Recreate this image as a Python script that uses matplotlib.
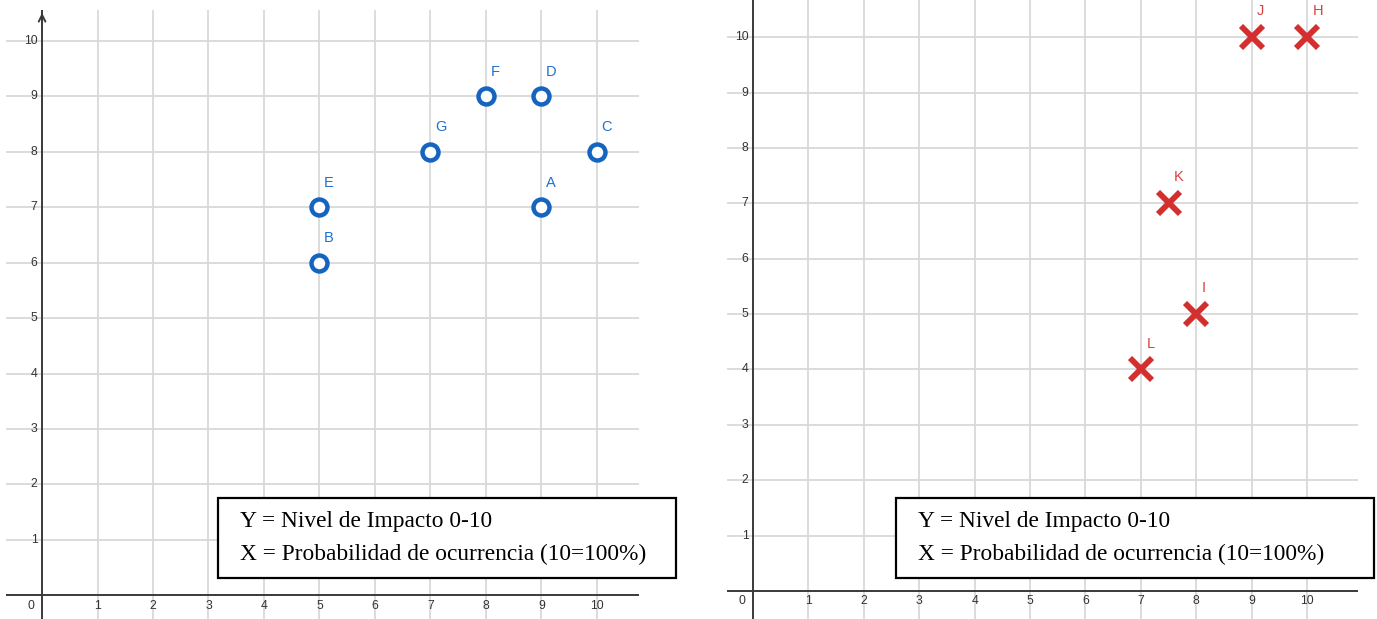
import matplotlib.pyplot as plt

# left panel: blue points
left_names = ['A', 'B', 'C', 'D', 'E', 'F', 'G']
left_x = [9, 5, 10, 9, 5, 8, 7]
left_y = [7, 6, 8, 9, 7, 9, 8]

# right panel: red crosses
right_names = ['H', 'I', 'J', 'K', 'L']
right_x = [10, 8, 9, 7.5, 7]
right_y = [10, 5, 10, 7, 4]

ticks = list(range(1, 11))
legend_lines = ['Y = Nivel de Impacto 0-10',
                'X = Probabilidad de ocurrencia (10=100%)']

W, H = 1377, 619
fig = plt.figure(figsize=(W / 100, H / 100), dpi=100)

GRID = '#d9d9d9'
AXIS = '#3a3a3a'
TICK = '#333333'


def setup(ax, xlim, ylim, arrow):
    ax.set_xlim(*xlim)
    ax.set_ylim(*ylim)
    for s in ax.spines.values():
        s.set_visible(False)
    ax.set_xticks([])
    ax.set_yticks([])
    for t in ticks:
        ax.axvline(t, color=GRID, lw=1.3, zorder=0)
        ax.axhline(t, color=GRID, lw=1.3, zorder=0)
    ax.axhline(0, color=AXIS, lw=1.4, zorder=1)
    ax.axvline(0, color=AXIS, lw=1.4, zorder=1)
    for t in ticks:
        ax.text(t, -0.08, str(t), ha='center', va='top', fontsize=8.8,
                color=TICK, family='Liberation Sans')
        ax.text(-0.08, t, str(t), ha='right', va='center', fontsize=8.8,
                color=TICK, family='Liberation Sans')
    ax.text(-0.2, -0.08, '0', ha='center', va='top', fontsize=8.8,
            color=TICK, family='Liberation Sans')
    if arrow:
        ax.annotate('', xy=(0, ylim[1]), xytext=(0, ylim[1] - 0.3),
                    arrowprops=dict(arrowstyle='->', color=AXIS, lw=1.4,
                                    mutation_scale=12))


# left axes: pixels x 6..639, y 10..619
ax1 = fig.add_axes([6 / W, 0, 633 / W, 609 / H])
setup(ax1, (-0.65, 10.76), (-0.43, 10.56), True)
ax1.plot(left_x, left_y, 'o', ms=11.5, mfc='white', mec='#1565c0',
         mew=3.2, ls='none', zorder=3)
for n, x, y in zip(left_names, left_x, left_y):
    ax1.text(x + 0.08, y + 0.32, n, ha='left', va='bottom', fontsize=10.5,
             color='#1e6fd0', family='Liberation Sans')

# right axes: pixels x 727..1358, y 0..619
ax2 = fig.add_axes([727 / W, 0, 631 / W, 1])
setup(ax2, (-0.47, 10.92), (-0.505, 10.67), False)
ax2.plot(right_x, right_y, 'x', ms=15.5, mec='#d32f2f', mew=4.2,
         ls='none', zorder=3)
for n, x, y in zip(right_names, right_x, right_y):
    ax2.text(x + 0.1, y + 0.34, n, ha='left', va='bottom', fontsize=10.5,
             color='#d84040', family='Liberation Sans')

# text boxes
for x0, x1 in [(218, 676), (896, 1374)]:
    y0, y1 = 498, 578
    box = plt.Rectangle((x0 / W, 1 - y1 / H), (x1 - x0) / W, (y1 - y0) / H,
                        transform=fig.transFigure, fc='white', ec='black',
                        lw=1.6, zorder=5)
    fig.add_artist(box)
    fig.text((x0 + 22) / W, 1 - 522 / H, legend_lines[0], ha='left',
             va='center', fontsize=16.8, family='Liberation Serif', zorder=6)
    fig.text((x0 + 22) / W, 1 - 554 / H, legend_lines[1], ha='left',
             va='center', fontsize=16.8, family='Liberation Serif', zorder=6)

fig.savefig('out.png', dpi=100)
